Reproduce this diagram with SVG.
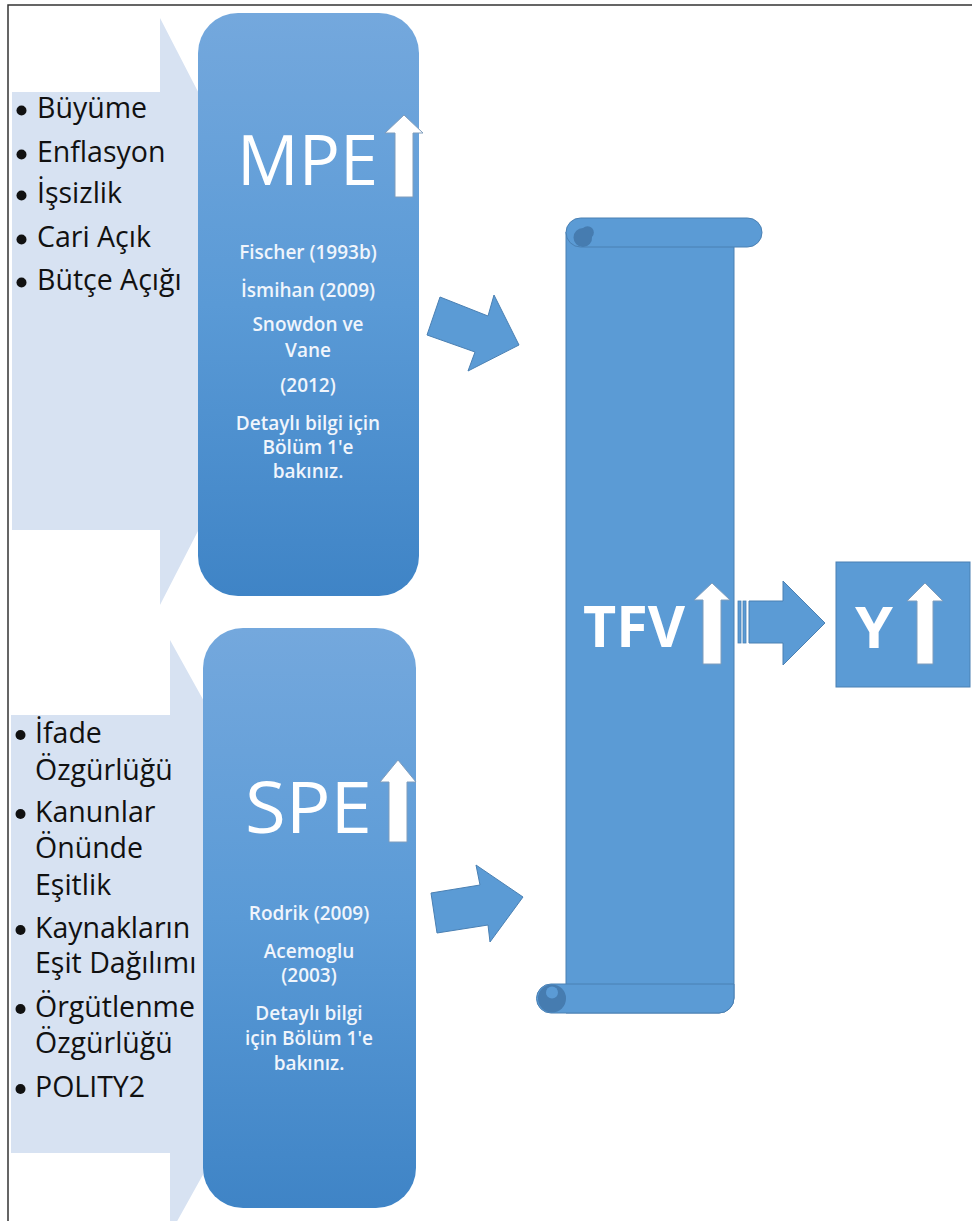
<svg xmlns="http://www.w3.org/2000/svg" width="972" height="1221" viewBox="0 0 972 1221">
<defs>
<linearGradient id="boxg" x1="0" y1="0" x2="0" y2="1">
<stop offset="0" stop-color="#74a8dd"/>
<stop offset="0.5" stop-color="#5a9ad6"/>
<stop offset="1" stop-color="#3f84c6"/>
</linearGradient>
<style>
.light{fill:#d7e2f2}
.box{fill:url(#boxg)}
.blue{fill:#5b9bd5;stroke:#4a80b3;stroke-width:1}
.up{fill:#ffffff;stroke:#7f9dbd;stroke-width:1}
.big{font-family:"Open Sans","Noto Sans",sans-serif;fill:#ffffff}
.bold{font-family:"Open Sans","Noto Sans",sans-serif;font-weight:700;fill:#ffffff}
.small{font-family:"Open Sans","Noto Sans",sans-serif;font-weight:600;font-size:19px;fill:#f0f5fc;text-anchor:middle}
.list{font-family:"Open Sans","Noto Sans",sans-serif;font-size:28.5px;fill:#111111}
.bul{fill:#111111}
</style>
</defs>
<rect width="972" height="1221" fill="#ffffff"/>
<path d="M8,1221 V5 H972" fill="none" stroke="#333333" stroke-width="1.5"/>

<g id="mpe-inputs">
<polygon class="light" points="12,92 160,92 160,18 311,311 160,605 160,530 12,530"/>
<circle class="bul" cx="21.5" cy="110.5" r="5"/><text class="list" x="37" y="118">Büyüme</text>
<circle class="bul" cx="21.5" cy="154.5" r="5"/><text class="list" x="37" y="162">Enflasyon</text>
<circle class="bul" cx="21.5" cy="195.5" r="5"/><text class="list" x="37" y="203">İşsizlik</text>
<circle class="bul" cx="21.5" cy="239.5" r="5"/><text class="list" x="37" y="247">Cari Açık</text>
<circle class="bul" cx="21.5" cy="282.5" r="5"/><text class="list" x="37" y="290">Bütçe Açığı</text>
</g>

<g id="spe-inputs">
<polygon class="light" points="11,715 170,715 170,640 335,937 170,1234 170,1153 11,1153"/>
<circle class="bul" cx="20.5" cy="735" r="5"/><text class="list" x="35" y="743">İfade</text>
<text class="list" x="35" y="780">Özgürlüğü</text>
<circle class="bul" cx="20.5" cy="814" r="5"/><text class="list" x="35" y="822">Kanunlar</text>
<text class="list" x="35" y="858">Önünde</text>
<text class="list" x="35" y="895">Eşitlik</text>
<circle class="bul" cx="20.5" cy="930" r="5"/><text class="list" x="35" y="938">Kaynakların</text>
<text class="list" x="35" y="973">Eşit Dağılımı</text>
<circle class="bul" cx="20.5" cy="1009" r="5"/><text class="list" x="35" y="1017">Örgütlenme</text>
<text class="list" x="35" y="1053">Özgürlüğü</text>
<circle class="bul" cx="20.5" cy="1089" r="5"/><text class="list" x="35" y="1097">POLITY2</text>
</g>

<g id="mpe">
<rect class="box" x="198" y="13" width="221" height="583" rx="40" ry="40"/>
<text class="big" x="237" y="185" font-size="70" textLength="141" lengthAdjust="spacingAndGlyphs">MPE</text>
<polygon class="up" points="404,115 423,133 413,133 413,197 395,197 395,133 385,133"/>
<text class="small" x="308" y="259">Fischer (1993b)</text>
<text class="small" x="308" y="297">İsmihan (2009)</text>
<text class="small" x="308" y="331">Snowdon ve</text>
<text class="small" x="308" y="357">Vane</text>
<text class="small" x="308" y="392">(2012)</text>
<text class="small" x="308" y="430">Detaylı bilgi için</text>
<text class="small" x="308" y="454">Bölüm 1'e</text>
<text class="small" x="308" y="478">bakınız.</text>
</g>

<g id="spe">
<rect class="box" x="203" y="628" width="213" height="580" rx="40" ry="40"/>
<text class="big" x="245" y="833" font-size="72" textLength="127" lengthAdjust="spacingAndGlyphs">SPE</text>
<polygon class="up" points="398,760 416,782 407,782 407,842 389,842 389,782 380,782"/>
<text class="small" x="309" y="920">Rodrik (2009)</text>
<text class="small" x="309" y="958">Acemoglu</text>
<text class="small" x="309" y="982">(2003)</text>
<text class="small" x="309" y="1020">Detaylı bilgi</text>
<text class="small" x="309" y="1045">için Bölüm 1'e</text>
<text class="small" x="309" y="1070">bakınız.</text>
</g>

<g id="tfv">
<path class="blue" d="M566,232 H734 V998 A15,15 0 0 1 719,1013 H566 Z"/>
<rect class="blue" x="566" y="218" width="196" height="29" rx="14.5" ry="14.5"/>
<path d="M583,228 A9.5,9.5 0 1 0 583,247 A9,9 0 0 0 592,237 A6,6 0 0 0 583,228 Z" fill="#467cb0"/>
<path d="M551,984 H734 V998 A15,15 0 0 1 719,1013 H551 A14.5,14.5 0 0 1 551,984 Z" fill="#5b9bd5" stroke="#4a80b3" stroke-width="1"/>
<circle cx="552" cy="998.5" r="14" fill="#467cb0"/>
<path d="M552,998.5 A6,6 0 0 1 552,986.5 A6,6 0 0 1 552,998.5 Z" fill="#5b9bd5"/>
<text class="bold" x="583" y="647" font-size="58" textLength="102" lengthAdjust="spacingAndGlyphs">TFV</text>
<polygon class="up" points="712,583 730,600 721,600 721,664 703,664 703,600 694,600"/>
</g>

<g id="y">
<rect class="blue" x="836" y="562" width="134" height="125"/>
<text class="bold" x="855" y="648" font-size="58" textLength="38" lengthAdjust="spacingAndGlyphs">Y</text>
<polygon class="up" points="925,583 943,601 933,601 933,664 917,664 917,601 907,601"/>
</g>

<g id="connectors">
<polygon class="blue" points="440,297 488,316 494,295 519,345 468,371 475,352 427,335"/>
<polygon class="blue" points="431,893 480,885 476,865 523,897 490,942 488,925 437,933"/>
<rect x="738" y="601" width="3" height="42" fill="#5b9bd5" stroke="#4a80b3" stroke-width="0.8"/>
<rect x="743" y="601" width="3" height="42" fill="#5b9bd5" stroke="#4a80b3" stroke-width="0.8"/>
<polygon class="blue" points="749,601 783,601 783,581 825,623 783,665 783,643 749,643"/>
</g>
</svg>
